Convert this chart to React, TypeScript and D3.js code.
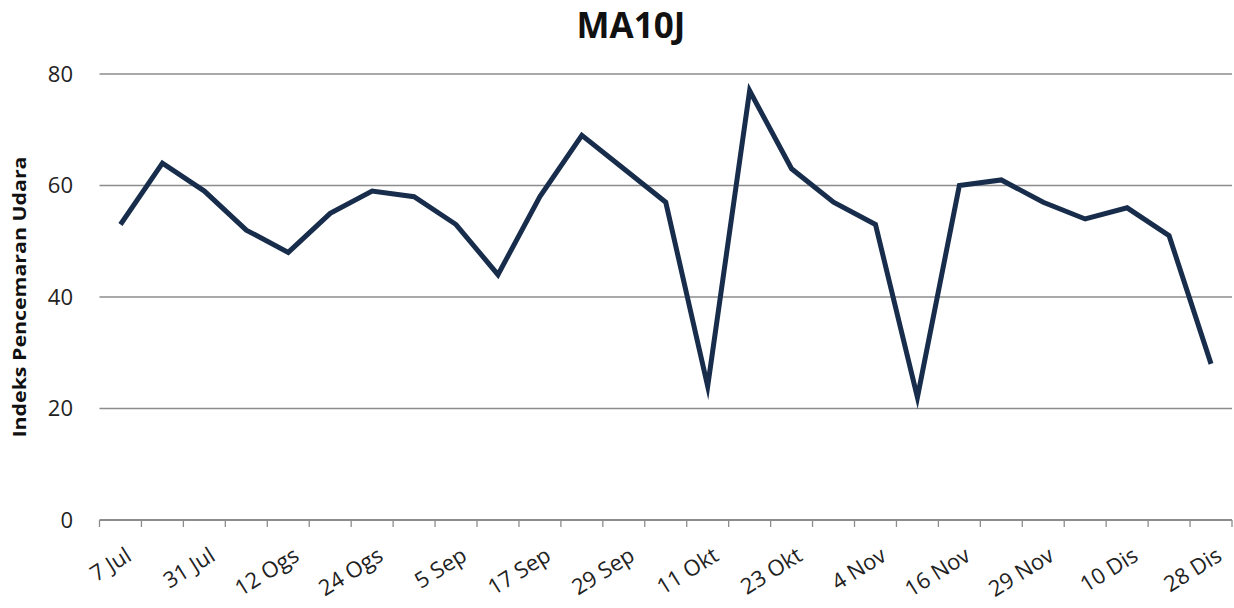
import React from "react";
import * as d3 from "d3";

const categories: string[] = [
  "7 Jul", "19 Jul", "31 Jul", "6 Ogs", "12 Ogs", "18 Ogs", "24 Ogs", "30 Ogs", "5 Sep",
  "11 Sep", "17 Sep", "23 Sep", "29 Sep", "5 Okt", "11 Okt", "17 Okt", "23 Okt", "29 Okt",
  "4 Nov", "10 Nov", "16 Nov", "22 Nov", "29 Nov", "4 Dis", "10 Dis", "16 Dis", "28 Dis",
];
const values: number[] = [
  53, 64, 59, 52, 48, 55, 59, 58, 53, 44, 58, 69, 63, 57, 24, 77, 63, 57, 53, 22, 60, 61, 57, 54, 56, 51, 28,
];
const yTicks: number[] = [0, 20, 40, 60, 80];
const title = "MA10J";
const yLabel = "Indeks Pencemaran Udara";

const W = 1234;
const H = 608;
const left = 99.5;
const right = 1232;
const top = 74;
const bottom = 520;
const font = "'Open Sans', 'Liberation Sans', sans-serif";

export default function App() {
  const x = d3.scaleBand<string>().domain(categories).range([left, right]).padding(0);
  const y = d3.scaleLinear().domain([0, 80]).range([bottom, top]);
  const bw = x.bandwidth();
  const line = d3
    .line<number>()
    .x((_, i) => (x(categories[i]) as number) + bw / 2)
    .y((d) => y(d));
  const tickXs = d3.range(categories.length + 1).map((i) => left + i * bw);

  return (
    <svg width={W} height={H} style={{ position: "absolute", left: 0, top: 0, background: "#fff" }}>
      <text x={631} y={38} textAnchor="middle" fontFamily={font} fontWeight="bold" fontSize={35} fill="#111">
        {title}
      </text>
      {yTicks.map((t) => (
        <g key={t}>
          {t > 0 && <line x1={left} x2={right} y1={y(t)} y2={y(t)} stroke="#8c8c8c" strokeWidth={1.3} />}
          <text x={73} y={y(t)} dy="0.36em" textAnchor="end" fontFamily={font} fontSize={22} fill="#222">
            {t}
          </text>
        </g>
      ))}
      <text
        transform={`translate(26, 297) rotate(-90)`}
        textAnchor="middle"
        fontFamily={font}
        fontWeight="bold"
        fontSize={18}
        textLength={281}
        lengthAdjust="spacingAndGlyphs"
        fill="#111"
      >
        {yLabel}
      </text>
      <line x1={left} x2={right} y1={bottom} y2={bottom} stroke="#8c8c8c" strokeWidth={1.8} />
      {tickXs.map((tx, i) => (
        <line key={i} x1={tx} x2={tx} y1={bottom} y2={bottom + 7} stroke="#8c8c8c" strokeWidth={1.3} />
      ))}
      {categories.map((c, i) =>
        i % 2 === 0 ? (
          <text
            key={c}
            transform={`translate(${(x(c) as number) + bw / 2 + 4}, 546) rotate(-32)`}
            textAnchor="end"
            dy="0.72em"
            fontFamily={font}
            fontSize={22}
            fill="#222"
          >
            {c}
          </text>
        ) : null
      )}
      <path d={line(values) || ""} fill="none" stroke="#172d4b" strokeWidth={5} strokeLinejoin="miter" strokeMiterlimit={10} />
    </svg>
  );
}
